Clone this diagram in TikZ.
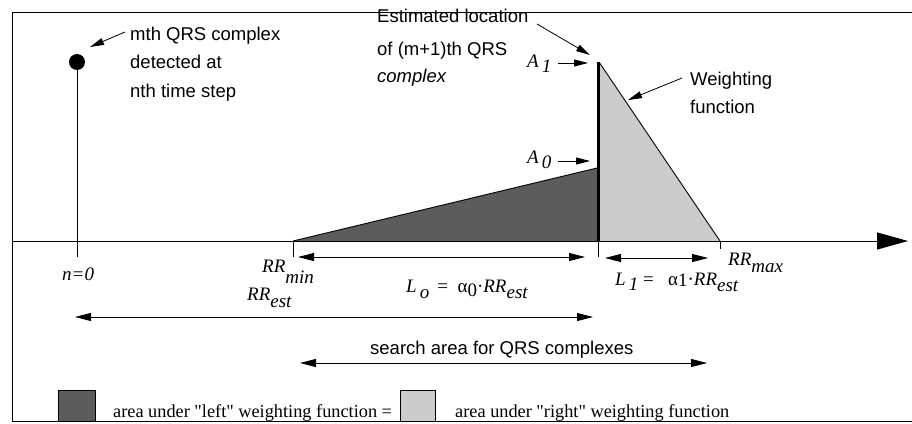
\documentclass[tikz,border=0pt]{standalone}
\usepackage{fontspec}
\setmainfont{Liberation Serif}
\newfontfamily\hv{Liberation Sans}
\usetikzlibrary{arrows.meta}
\newcommand\lsub[2][5pt]{\raisebox{-#1}{#2}}
\definecolor{darkfill}{gray}{0.36}
\definecolor{lightfill}{gray}{0.80}
\begin{document}
\begin{tikzpicture}[x=1pt,y=-1pt,
  sans/.style={font=\hv\fontsize{18.5}{22}\selectfont, inner sep=0pt, anchor=base west},
  sansit/.style={font=\hv\itshape\fontsize{18.5}{22}\selectfont, inner sep=0pt, anchor=base west},
  mth/.style={font=\fontsize{19}{22}\selectfont\itshape, inner sep=0pt, anchor=base west},
  leg/.style={font=\fontsize{18.3}{22}\selectfont, inner sep=0pt, anchor=base west},
  ptr/.style={line width=0.8pt, -{Triangle[length=14pt,width=7pt]}},
  dtip/.style={line width=0.8pt, {Triangle[length=16pt,width=8pt]}-{Triangle[length=16pt,width=8pt]}},
  thin/.style={line width=0.9pt}]
\useasboundingbox (0,0) rectangle (912,423);

% shaded weighting functions
\fill[darkfill] (293,241) -- (597,168) -- (597,241) -- cycle;
\draw[thin] (293,241) -- (597,168);
\fill[lightfill] (599,62) -- (720,241) -- (599,241) -- cycle;
\draw[thin] (599,62) -- (720,241);

% frame
\draw[thin] (912,12) -- (12,12) -- (12,421) -- (912,421);

% axis
\coordinate (axL) at (12,241);
\coordinate (axR) at (908,241);
\draw[line width=1pt, -{Triangle[length=31pt,width=17pt]}] (axL) -- (axR);

% stem and dot
\coordinate (dot) at (77,62);
\coordinate (stemB) at (77,257);
\draw[thin] (dot) -- (stemB);
\fill (dot) circle (8);

% estimated location line
\coordinate (estT) at (598,62);
\coordinate (estA) at (598,241);
\coordinate (estB) at (598,257);
\draw[line width=3pt] (estT) -- (estA);
\draw[thin] (estA) -- (estB);

% ticks
\coordinate (minA) at (293,241);
\coordinate (minB) at (293,257);
\draw[thin] (minA) -- (minB);
\coordinate (maxA) at (720,241);
\coordinate (maxB) at (720,249);
\draw[thin] (maxA) -- (maxB);

% texts
\node[sans] (t1) at (130,40) {mth QRS complex};
\node[sans] (t2) at (130,68) {detected at};
\node[sans] (t3) at (130,97) {nth time step};

\node[sans] (e1) at (377,23) {Estimated location};
\node[sans] (e2) at (377,55) {of (m+1)th QRS};
\node[sansit] (e3) at (377,82) {complex};

\node[sans] (w1) at (690,85) {Weighting};
\node[sans] (w2) at (690,113) {function};

\node[mth] (a1) at (527,67) {A\,\lsub{1}};
\node[mth] (a0) at (527,163) {A\,\lsub{0}};

\node[mth] (n0) at (62,280) {n=0};
\node[mth] (rrmin) at (262,272) {RR\lsub[11pt]{min}};
\node[mth] (rrest) at (247,300) {RR\lsub[7pt]{est}};
\node[mth] (rrmax) at (728,265) {RR\lsub[7pt]{max}};

\node[mth] (l0) at (406,292) {L\,\lsub[6pt]{o}\upshape\ \,=\ \ α\lsub[4pt]{0}·\itshape RR\lsub[6pt]{est}};
\node[mth] (l1) at (615,285) {L\,\lsub[5pt]{1}\upshape\ =\ \ \ α\lsub[1pt]{1}·\itshape RR\lsub[6pt]{est}};

\node[sans] (srch) at (370,354) {search area for QRS complexes};

% legend
\fill[darkfill] (58,390) rectangle (95,421);
\draw[thin] (58,390) rectangle (95,421);
\node[leg] (legL) at (113,417) {area under \textquotedbl left\textquotedbl\ weighting function =};
\fill[lightfill] (400,390) rectangle (435,421);
\draw[thin] (400,390) rectangle (435,421);
\node[leg] (legR) at (455,417) {area under \textquotedbl right\textquotedbl\ weighting function};

% pointer arrows
\coordinate (p1s) at (125,32); \coordinate (p1e) at (90,47);
\draw[ptr] (p1s) -- (p1e);
\coordinate (p2s) at (537,24); \coordinate (p2e) at (590,55);
\draw[ptr] (p2s) -- (p2e);
\coordinate (p3s) at (558,63); \coordinate (p3e) at (588,63);
\draw[ptr] (p3s) -- (p3e);
\coordinate (p4s) at (558,161); \coordinate (p4e) at (590,161);
\draw[ptr] (p4s) -- (p4e);
\coordinate (p5s) at (682,78); \coordinate (p5e) at (628,100);
\draw[ptr] (p5s) -- (p5e);

% dimension arrows
\coordinate (d1l) at (75,317); \coordinate (d1r) at (593,317);
\draw[dtip] (d1l) -- (d1r);
\coordinate (d2l) at (298,257); \coordinate (d2r) at (585,257);
\draw[dtip] (d2l) -- (d2r);
\coordinate (d3l) at (605,258); \coordinate (d3r) at (708,258);
\draw[dtip] (d3l) -- (d3r);
\coordinate (d4l) at (300,363); \coordinate (d4r) at (707,363);
\draw[dtip] (d4l) -- (d4r);
\end{tikzpicture}
\end{document}
